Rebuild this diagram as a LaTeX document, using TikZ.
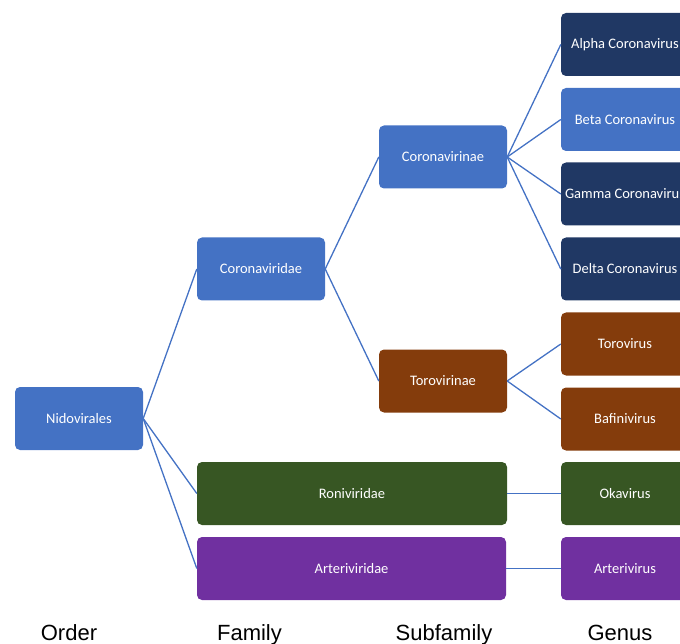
\documentclass[tikz,border=0pt]{standalone}
\usepackage{fontspec}
\setmainfont{Carlito}
\newfontfamily\labelfont{Liberation Sans}
\definecolor{lblue}{HTML}{4472C4}
\definecolor{navy}{HTML}{203864}
\definecolor{brownc}{HTML}{843C0C}
\definecolor{greenc}{HTML}{375623}
\definecolor{purplec}{HTML}{7030A0}
\definecolor{linec}{HTML}{4472C4}
\tikzset{
  box/.style={rounded corners=5pt, minimum height=63pt, text=white, inner sep=0pt, font=\fontsize{14.5}{16}\selectfont},
  smallbox/.style={box, minimum width=128pt},
  conn/.style={draw=linec, line width=1.3pt},
  axislabel/.style={anchor=base, font=\labelfont\fontsize{22}{24}\selectfont, text=black}
}
\begin{document}
\begin{tikzpicture}[x=1pt,y=-1pt]
\useasboundingbox (0,0) rectangle (680,644);
\clip (0,0) rectangle (680,644);
\node[smallbox, fill=lblue] (nido) at (79,418.5) {Nidovirales};
\node[smallbox, fill=lblue] (corv) at (261,269) {Coronaviridae};
\node[smallbox, fill=lblue] (corn) at (443,157) {Coronavirinae};
\node[smallbox, fill=brownc] (toro) at (443,381) {Torovirinae};
\node[box, minimum width=310pt, fill=greenc] (roni) at (352,493.5) {Roniviridae};
\node[box, minimum width=309pt, fill=purplec] (arte) at (351.5,568.5) {Arteriviridae};
\node[smallbox, fill=navy] (alpha) at (625,44.5) {Alpha Coronavirus};
\node[smallbox, fill=lblue] (beta) at (625,119.5) {Beta Coronavirus};
\node[smallbox, fill=navy] (gamma) at (625,194) {Gamma Coronavirus};
\node[smallbox, fill=navy] (delta) at (625,269) {Delta Coronavirus};
\node[smallbox, fill=brownc] (torov) at (625,344) {Torovirus};
\node[smallbox, fill=brownc] (bafi) at (625,419) {Bafinivirus};
\node[smallbox, fill=greenc] (oka) at (625,493.5) {Okavirus};
\node[smallbox, fill=purplec] (arv) at (625,568.5) {Arterivirus};
\draw[conn] (nido.east) -- (corv.west);
\draw[conn] (nido.east) -- (roni.west);
\draw[conn] (nido.east) -- (arte.west);
\draw[conn] (corv.east) -- (corn.west);
\draw[conn] (corv.east) -- (toro.west);
\draw[conn] (corn.east) -- (alpha.west);
\draw[conn] (corn.east) -- (beta.west);
\draw[conn] (corn.east) -- (gamma.west);
\draw[conn] (corn.east) -- (delta.west);
\draw[conn] (toro.east) -- (torov.west);
\draw[conn] (toro.east) -- (bafi.west);
\draw[conn] (roni.east) -- (oka.west);
\draw[conn] (arte.east) -- (arv.west);
\node[axislabel] (lorder) at (69,640) {Order};
\node[axislabel] (lfamily) at (249.5,640) {Family};
\node[axislabel] (lsub) at (444,640) {Subfamily};
\node[axislabel] (lgenus) at (620,640) {Genus};
\end{tikzpicture}
\end{document}
